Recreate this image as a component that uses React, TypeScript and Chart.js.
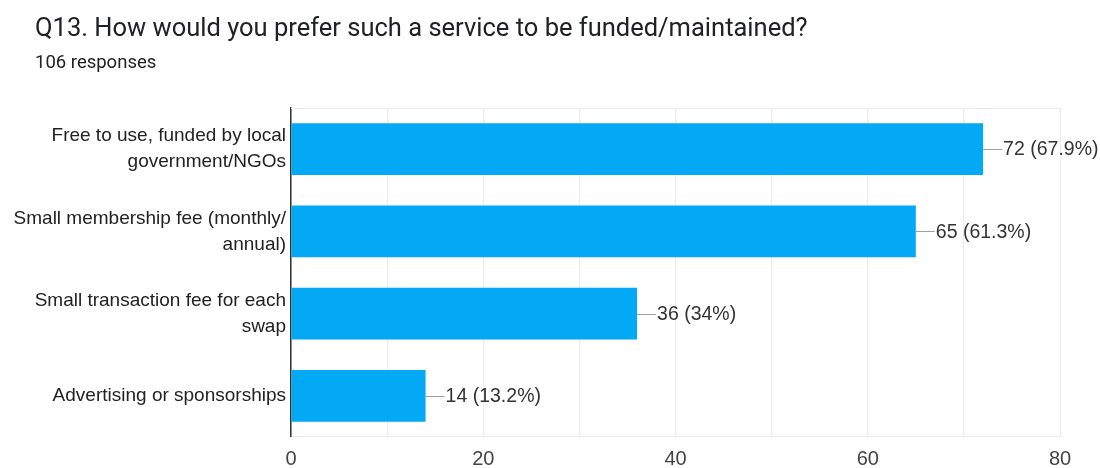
import React, { useEffect, useRef } from "react";
import { Chart, registerables } from "chart.js";

Chart.register(...registerables);

const titleText = "Q13. How would you prefer such a service to be funded/maintained?";
const subtitleText = "106 responses";
const categories: string[][] = [
  ["Free to use, funded by local", "government/NGOs"],
  ["Small membership fee (monthly/", "annual)"],
  ["Small transaction fee for each", "swap"],
  ["Advertising or sponsorships"],
];
const counts = [72, 65, 36, 14];
const percents = ["67.9%", "61.3%", "34%", "13.2%"];
const xMin = 0;
const xMax = 80;
const xStep = 10;
const xLabelStep = 20;

const valueLabelPlugin = {
  id: "valueLabels",
  afterDatasetsDraw(chart: any) {
    const ctx = chart.ctx;
    const meta = chart.getDatasetMeta(0);
    ctx.save();
    meta.data.forEach((bar: any, i: number) => {
      const x = bar.x;
      const y = bar.y;
      ctx.strokeStyle = "#9e9e9e";
      ctx.lineWidth = 1;
      ctx.beginPath();
      ctx.moveTo(x, Math.round(y) + 0.5);
      ctx.lineTo(x + 19, Math.round(y) + 0.5);
      ctx.stroke();
      ctx.fillStyle = "#333333";
      ctx.font = '19.5px "Liberation Sans", Arial, sans-serif';
      ctx.textAlign = "left";
      ctx.textBaseline = "middle";
      ctx.fillText(`${counts[i]} (${percents[i]})`, x + 20, y + 1);
    });
    ctx.restore();
  },
};

const frameTopPlugin = {
  id: "frameTop",
  beforeDatasetsDraw(chart: any) {
    const { ctx, chartArea } = chart;
    ctx.save();
    ctx.strokeStyle = "#ebebeb";
    ctx.lineWidth = 1;
    ctx.beginPath();
    ctx.moveTo(chartArea.left, Math.round(chartArea.top) + 0.5);
    ctx.lineTo(chartArea.right, Math.round(chartArea.top) + 0.5);
    ctx.stroke();
    ctx.restore();
  },
};

export default function App() {
  const canvasRef = useRef<HTMLCanvasElement | null>(null);

  useEffect(() => {
    document.body.style.margin = "0";
    const canvas = canvasRef.current;
    if (!canvas) return;
    const chart = new Chart(canvas, {
      type: "bar",
      data: {
        labels: categories,
        datasets: [
          {
            data: counts,
            backgroundColor: "#03a9f4",
            borderWidth: 0,
            categoryPercentage: 1,
            barPercentage: 0.63,
          },
        ],
      },
      options: {
        indexAxis: "y",
        animation: false,
        responsive: false,
        maintainAspectRatio: false,
        layout: { padding: { top: 108, right: 40, left: 0, bottom: 0 } },
        plugins: {
          legend: { display: false },
          tooltip: { enabled: false },
          title: { display: false },
        },
        scales: {
          x: {
            min: xMin,
            max: xMax,
            afterFit: (scale: any) => {
              scale.height = 30;
            },
            ticks: {
              stepSize: xStep,
              autoSkip: false,
              maxRotation: 0,
              padding: 11,
              color: "#444444",
              font: { family: '"Liberation Sans", Arial, sans-serif', size: 20 },
              callback: (v: any) => (Number(v) % xLabelStep === 0 ? String(v) : ""),
            },
            grid: { color: "#ebebeb", drawTicks: false, lineWidth: 1 },
            border: { color: "#ebebeb", width: 1 },
          },
          y: {
            afterFit: (scale: any) => {
              scale.width = 291;
            },
            ticks: {
              padding: 5,
              color: "#222222",
              autoSkip: false,
              font: { family: '"Liberation Sans", Arial, sans-serif', size: 19, lineHeight: 1.37 },
            },
            grid: { display: false, drawTicks: false },
            border: { color: "#333333", width: 1.5 },
          },
        },
      },
      plugins: [frameTopPlugin, valueLabelPlugin],
    });
    return () => chart.destroy();
  }, []);

  return (
    <div style={{ position: "absolute", left: 0, top: 0, width: 1100, height: 468, background: "#fff" }}>
      <canvas ref={canvasRef} width={1100} height={468} style={{ position: "absolute", left: 0, top: 0 }} />
      <div
        style={{
          position: "absolute",
          left: 35,
          top: 15,
          fontFamily: "Roboto, sans-serif",
          fontSize: 25.5,
          lineHeight: "25.5px",
          color: "#202124",
          whiteSpace: "nowrap",
        }}
      >
        {titleText}
      </div>
      <div
        style={{
          position: "absolute",
          left: 35,
          top: 53,
          fontFamily: "Roboto, sans-serif",
          fontSize: 18.5,
          lineHeight: "18.5px",
          color: "#202124",
          whiteSpace: "nowrap",
        }}
      >
        {subtitleText}
      </div>
    </div>
  );
}
